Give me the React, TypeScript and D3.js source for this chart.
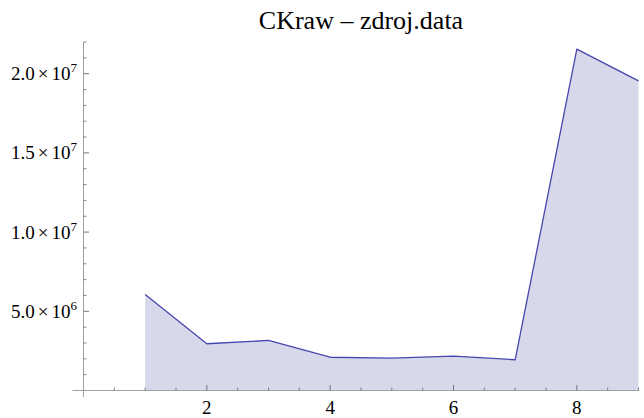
import React from "react";
import * as d3 from "d3";

const xValues = [1, 2, 3, 4, 5, 6, 7, 8, 9];
const yValues = [6.06e6, 2.95e6, 3.16e6, 2.1e6, 2.04e6, 2.17e6, 1.94e6, 21.55e6, 19.55e6];
const xMajorTicks = [2, 4, 6, 8];
const yMajorTicks = [5e6, 10e6, 15e6, 20e6];
const yTickLabels = [
  { mant: "5.0", exp: "6" },
  { mant: "1.0", exp: "7" },
  { mant: "1.5", exp: "7" },
  { mant: "2.0", exp: "7" },
];
const title = "CKraw \u2013 zdroj.data";

export default function App() {
  const W = 644, H = 418;
  const x = d3.scaleLinear().domain([0, 9]).range([83.5, 638.5]);
  const y = d3.scaleLinear().domain([0, 22e6]).range([390.5, 42]);
  const data = xValues.map((v, i) => [v, yValues[i]] as [number, number]);
  const line = d3.line<[number, number]>().x(d => x(d[0])).y(d => y(d[1]));
  const area = d3.area<[number, number]>().x(d => x(d[0])).y0(y(0)).y1(d => y(d[1]));

  const xMinor = d3.range(1, 19).map(i => i * 0.5).filter(v => !xMajorTicks.includes(v));
  const yMinor = d3.range(1, 23).map(i => i * 1e6).filter(v => !yMajorTicks.includes(v));
  const font = "'Liberation Serif', 'Times New Roman', Times, serif";
  const axisColor = "#a0a0a0";
  const tickColor = "#6a6a6a";
  const lab = { fontFamily: font, fontSize: "19px" };

  return (
    <svg width={W} height={H} style={{ position: "absolute", left: 0, top: 0 }}>
      <rect width={W} height={H} fill="#fff" />
      <path d={area(data) || ""} fill="rgb(216,216,235)" stroke="none" />
      {/* axes */}
      <line x1={72.5} x2={639} y1={y(0)} y2={y(0)} stroke={axisColor} strokeWidth={1} />
      <line x1={x(0)} x2={x(0)} y1={y(22e6)} y2={397} stroke={axisColor} strokeWidth={1} />
      {/* x ticks */}
      {xMinor.map(v => (
        <line key={"xm" + v} x1={x(v)} x2={x(v)} y1={y(0)} y2={y(0) - 3} stroke={tickColor} strokeWidth={0.8} />
      ))}
      {xMajorTicks.map(v => (
        <g key={"xM" + v}>
          <line x1={x(v)} x2={x(v)} y1={y(0)} y2={y(0) - 5.5} stroke={tickColor} strokeWidth={0.9} />
          <text x={x(v)} y={413.5} textAnchor="middle" style={lab} fill="#000">{v}</text>
        </g>
      ))}
      {/* y ticks */}
      {yMinor.map(v => (
        <line key={"ym" + v} x1={x(0)} x2={x(0) + 3} y1={y(v)} y2={y(v)} stroke={tickColor} strokeWidth={0.8} />
      ))}
      {yMajorTicks.map((v, i) => (
        <g key={"yM" + v}>
          <line x1={x(0)} x2={x(0) + 5.5} y1={y(v)} y2={y(v)} stroke={tickColor} strokeWidth={0.9} />
          <text x={77} y={y(v) + 6.5} textAnchor="end" style={lab} fill="#000">
            <tspan>{yTickLabels[i].mant}</tspan>
            <tspan dx={3}>{"\u00d7"}</tspan>
            <tspan dx={3}>10</tspan>
            <tspan dy={-8} style={{ fontSize: "13px" }}>{yTickLabels[i].exp}</tspan>
          </text>
        </g>
      ))}
      <path d={line(data) || ""} fill="none" stroke="rgb(70,70,175)" strokeWidth={1.3} strokeLinejoin="round" />
      <text x={361} y={28.5} textAnchor="middle" style={{ fontFamily: font, fontSize: "26px" }} fill="#000">{title}</text>
    </svg>
  );
}
